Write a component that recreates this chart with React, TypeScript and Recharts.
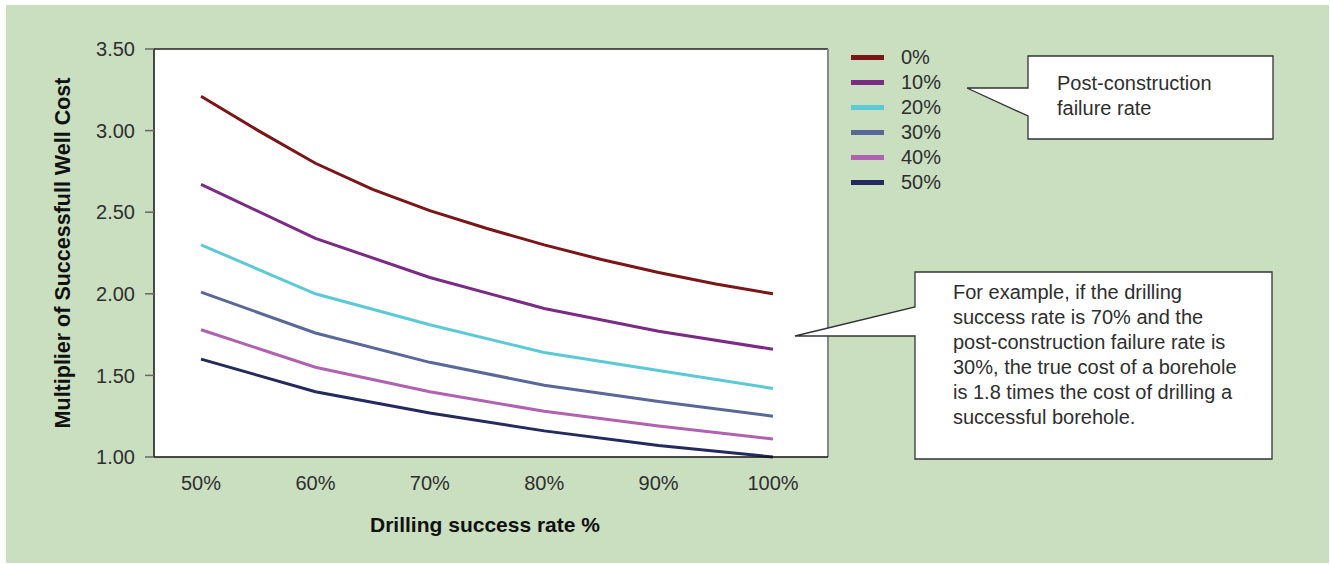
import React from 'react';
import {
  LineChart,
  Line,
  XAxis,
  YAxis,
  CartesianGrid,
  Legend,
  Label,
  ReferenceLine,
} from 'recharts';

// Drilling success rate (%) at which each curve is sampled
const RATES_FINE = [50, 55, 60, 65, 70, 75, 80, 85, 90, 95, 100];
const RATES = [50, 60, 70, 80, 90, 100];
const X_TICKS = [50, 60, 70, 80, 90, 100];
const Y_TICKS = [1, 1.5, 2, 2.5, 3, 3.5];

// Multiplier of successful well cost, per post-construction failure rate
const FAIL_0 = [3.21, 3.0, 2.8, 2.64, 2.51, 2.4, 2.3, 2.21, 2.13, 2.06, 2.0];
const FAIL_10 = [2.67, 2.34, 2.1, 1.91, 1.77, 1.66];
const FAIL_20 = [2.3, 2.0, 1.81, 1.64, 1.53, 1.42];
const FAIL_30 = [2.01, 1.76, 1.58, 1.44, 1.34, 1.25];
const FAIL_40 = [1.78, 1.55, 1.4, 1.28, 1.19, 1.11];
const FAIL_50 = [1.6, 1.4, 1.27, 1.16, 1.07, 1.0];

const SERIES = [
  { name: '0%', color: '#7a1518', rates: RATES_FINE, values: FAIL_0 },
  { name: '10%', color: '#7b2a85', rates: RATES, values: FAIL_10 },
  { name: '20%', color: '#5cc9d6', rates: RATES, values: FAIL_20 },
  { name: '30%', color: '#5a6899', rates: RATES, values: FAIL_30 },
  { name: '40%', color: '#b062b1', rates: RATES, values: FAIL_40 },
  { name: '50%', color: '#252a5e', rates: RATES, values: FAIL_50 },
];

const CALLOUT_NOTE = [
  'For example, if the drilling',
  'success rate is 70% and the',
  'post-construction failure rate is',
  '30%, the true cost of a borehole',
  'is 1.8 times the cost of drilling a',
  'successful borehole.',
];

const FONT = "'Liberation Sans', Arial, sans-serif";
const TEXT = '#2e2e2e';
const BG = '#cadfc0';

const X_DOMAIN: [number, number] = [45.89, 104.81];

const colorOf = (name: string) => SERIES.find((s) => s.name === name)?.color ?? '#000';

export default function App() {
  return (
    <div style={{ position: 'absolute', left: 0, top: 0, width: 1330, height: 564, background: '#fff' }}>
      <div style={{ position: 'absolute', left: 6, top: 5, width: 1323, height: 558, background: BG }} />
      <div style={{ position: 'absolute', left: 0, top: 0 }}>
        <LineChart width={1330} height={564} margin={{ top: 49, right: 502, bottom: 27, left: 0 }}>
          <CartesianGrid fill="#fff" horizontal={false} vertical={false} />
          <XAxis
            type="number"
            dataKey="x"
            domain={X_DOMAIN}
            allowDataOverflow
            ticks={X_TICKS}
            height={80}
            tickLine={false}
            tickSize={10}
            tickMargin={9}
            axisLine={{ stroke: '#111', strokeWidth: 1.5 }}
            tick={{ fontSize: 20, fill: TEXT, fontFamily: FONT }}
            tickFormatter={(v) => `${v}%`}
          >
            <Label
              content={({ viewBox }: any) => (
                <text
                  x={viewBox.x + viewBox.width / 2 - 6}
                  y={524}
                  textAnchor="middle"
                  dominantBaseline="central"
                  fontFamily={FONT}
                  fontSize={21}
                  fontWeight="bold"
                  fill="#111"
                >
                  Drilling success rate %
                </text>
              )}
            />
          </XAxis>
          <YAxis
            type="number"
            domain={[1, 3.5]}
            ticks={Y_TICKS}
            width={154}
            tickSize={9}
            tickMargin={10}
            tickLine={{ stroke: '#666', strokeWidth: 1.5 }}
            axisLine={{ stroke: '#111', strokeWidth: 1.5 }}
            tick={{ fontSize: 20, fill: TEXT, fontFamily: FONT }}
            tickFormatter={(v) => v.toFixed(2)}
          >
            <Label
              content={({ viewBox }: any) => {
                const cx = viewBox.x + 63;
                const cy = viewBox.y + viewBox.height / 2;
                return (
                  <text
                    x={cx}
                    y={cy}
                    transform={`rotate(-90, ${cx}, ${cy})`}
                    textAnchor="middle"
                    dominantBaseline="central"
                    fontFamily={FONT}
                    fontSize={21.5}
                    fontWeight="bold"
                    fill="#111"
                  >
                    Multiplier of Successfull Well Cost
                  </text>
                );
              }}
            />
          </YAxis>
          <ReferenceLine y={3.5} stroke="#222" strokeWidth={1.5} />
          <ReferenceLine x={X_DOMAIN[1]} stroke="#888" strokeWidth={2} />
          <Legend
            layout="vertical"
            verticalAlign="top"
            align="left"
            wrapperStyle={{ left: 851, top: 44.5, width: 0, height: 0 }}
            content={({ payload }: any) => (
              <div style={{ fontFamily: FONT, fontSize: 20, color: TEXT, whiteSpace: 'nowrap', width: 120 }}>
                {(payload ?? []).map((p: any) => (
                  <div key={p.value} style={{ display: 'flex', alignItems: 'center', height: 25 }}>
                    <span
                      style={{
                        display: 'inline-block',
                        flexShrink: 0,
                        width: 33,
                        height: 5,
                        background: p.color || colorOf(p.value),
                        marginRight: 17,
                      }}
                    />
                    <span>{p.value}</span>
                  </div>
                ))}
              </div>
            )}
          />
          {SERIES.map((s) => (
            <Line
              key={s.name}
              name={s.name}
              data={s.rates.map((x, i) => ({ x, y: s.values[i] }))}
              dataKey="y"
              type="linear"
              stroke={s.color}
              strokeWidth={3}
              dot={false}
              activeDot={false}
              isAnimationActive={false}
            />
          ))}
        </LineChart>
      </div>
      <svg
        width={1330}
        height={564}
        style={{ position: 'absolute', left: 0, top: 0, pointerEvents: 'none' }}
        fontFamily={FONT}
      >
        <path
          d="M1028,56 H1273 V139 H1028 V116 L967,88 H1028 Z"
          fill="#fff"
          stroke="#333"
          strokeWidth={1.3}
        />
        <text x={1057} y={83} fontSize={20} fill={TEXT} dominantBaseline="central">
          Post-construction
        </text>
        <text x={1057} y={108} fontSize={20} fill={TEXT} dominantBaseline="central">
          failure rate
        </text>
        <path
          d="M915,272 H1272 V459 H915 V336 H795 L915,307 Z"
          fill="#fff"
          stroke="#333"
          strokeWidth={1.3}
        />
        {CALLOUT_NOTE.map((line, i) => (
          <text key={i} x={953} y={292 + i * 25} fontSize={20} fill={TEXT} dominantBaseline="central">
            {line}
          </text>
        ))}
      </svg>
    </div>
  );
}
